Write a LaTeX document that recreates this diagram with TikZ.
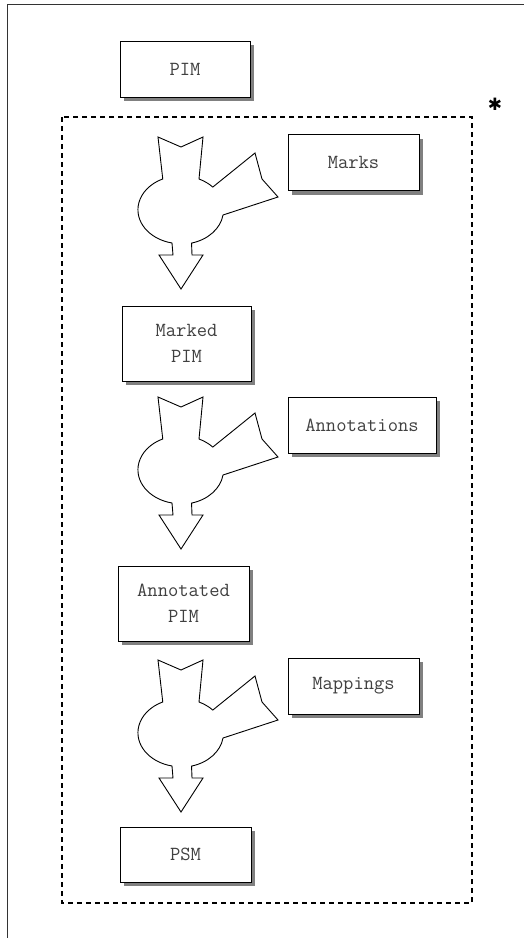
\documentclass[tikz,border=0pt]{standalone}
\usepackage{fontspec}
\newfontfamily\symfont{DejaVu Sans}
\usetikzlibrary{shadows}

\tikzstyle{bx1}=[rectangle,fill=white,draw,line width=1pt,minimum height=56pt,minimum width=131pt,align=center,text=black!75,font=\ttfamily\fontsize{20}{26}\selectfont,drop shadow={shadow xshift=4pt,shadow yshift=-4pt,fill=black!50,opacity=1}]
\tikzstyle{bx2}=[bx1,minimum height=75pt]
\tikzstyle{fat}=[draw,fill=white,line width=0.9pt,line join=miter]

\tikzset{merge/.pic={
  \path [fat] (-23,-73) -- (0,-63) -- (22,-73) -- (18,-31)
    arc [start angle=-65,end angle=-42,x radius=43,y radius=34]
    -- (74,-57) -- (81,-31) -- (97,-13) -- (42,5)
    arc [start angle=8,end angle=75,x radius=43,y radius=34]
    -- (11,45) -- (22,45) -- (0,79) -- (-22,45) -- (-8,45) -- (-9,33)
    arc [start angle=102,end angle=245,x radius=43,y radius=34]
    -- cycle;
}}

\begin{document}
\begin{tikzpicture}[x=1pt,y=-1pt]
\useasboundingbox (0,0) rectangle (524,938);

%frame
\draw [line width=1pt,black!80] (7,938) -- (7,4) -- (524,4);

%starting model
\node [bx1,minimum width=130pt] at (185,69) (pim) {PIM};

%repeated part
\draw [line width=1.5pt,dash pattern=on 5pt off 4pt] (62,117) rectangle (472,903);
\node [font=\symfont\fontsize{17}{17}\selectfont] at (495,104) (star) {✱};

%step 1: marks
\pic at (181,210) {merge};
\node [bx1] at (353.5,162.5) (mk) {Marks};
\node [bx2,minimum width=129pt] at (186.5,343.5) (mpim) {Marked\\PIM};

%step 2: annotations
\pic at (181,470) {merge};
\node [bx1,minimum width=148pt] at (362,425) (an) {Annotations};
\node [bx2] at (183.5,603.5) (apim) {Annotated\\PIM};

%step 3: mappings
\pic at (181,733) {merge};
\node [bx1] at (353.5,686) (mp) {Mappings};
\node [bx1,minimum height=55pt] at (185.5,854.5) (psm) {PSM};

\end{tikzpicture}
\end{document}
